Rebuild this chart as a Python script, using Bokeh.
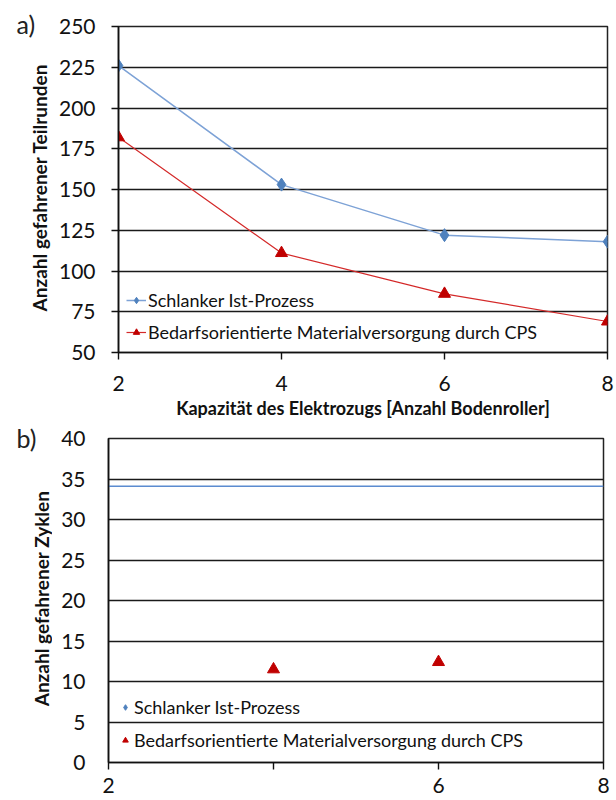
import math
from bokeh.plotting import figure
from bokeh.layouts import column, row
from bokeh.models import FixedTicker, Legend, LegendItem, Range1d
from bokeh.core.properties import value
from bokeh.embed import file_html
from bokeh.resources import INLINE

# ---- data ----
capacity = [2, 4, 6, 8]
ist_a = [226, 153, 122, 118]
cps_a = [182, 111, 86, 69]
ist_b = [34.1, 34.1, 34.1, 34.1]
cps_b_x = [4, 6]
cps_b = [11.5, 12.4]
y_ticks_a = [50, 75, 100, 125, 150, 175, 200, 225, 250]
y_ticks_b = [0, 5, 10, 15, 20, 25, 30, 35, 40]
x_labels_a = {2: "2", 4: "4", 6: "6", 8: "8"}
x_labels_b = {2: "2", 4: "", 6: "6", 8: "8"}
series_names = ["Schlanker Ist-Prozess", "Bedarfsorientierte Materialversorgung durch CPS"]
x_title = "Kapazität des Elektrozugs [Anzahl Bodenroller]"
y_title_a = "Anzahl gefahrener Teilrunden"
y_title_b = "Anzahl gefahrener Zyklen"
panel_tags = ["a)", "b)"]

FONT = "Lato"
BLUE_LINE = "#7da2d6"
BLUE_MARK = "#4f81bd"
RED_LINE = "#d42a2a"
RED_MARK = "#c00000"
TAG_W = 52
MAIN_W = 616 - TAG_W


def base_fig(height, top, bottom, left, right, yr, yticks, xlabels, tick_out_y, x_standoff):
    p = figure(width=MAIN_W, height=height, output_backend="svg", toolbar_location=None,
               x_range=Range1d(2, 8), y_range=Range1d(*yr),
               min_border_left=left, min_border_right=right,
               min_border_top=top, min_border_bottom=bottom, frame_align=False)
    p.background_fill_color = "white"
    p.border_fill_color = "white"
    p.outline_line_color = "#222222"
    p.outline_line_width = 1.5
    p.xgrid.visible = False
    p.ygrid.ticker = FixedTicker(ticks=yticks)
    p.ygrid.grid_line_color = "#1a1a1a"
    p.ygrid.grid_line_width = 1.4
    for ax in (p.xaxis[0], p.yaxis[0]):
        ax.axis_line_color = "#111111"
        ax.axis_line_width = 1.6
        ax.major_tick_line_color = "#111111"
        ax.major_tick_line_width = 1.4
        ax.minor_tick_line_color = None
        ax.major_tick_in = 0
        ax.major_label_text_font = FONT
        ax.major_label_text_font_size = "21px"
        ax.major_label_text_color = "#111111"
        ax.axis_label_text_font = FONT
        ax.axis_label_text_font_style = "bold"
        ax.axis_label_text_font_size = "18px"
        ax.axis_label_text_color = "#111111"
    p.xaxis.ticker = FixedTicker(ticks=capacity)
    p.xaxis.major_label_overrides = xlabels
    p.xaxis.major_tick_out = 7
    p.xaxis.major_label_standoff = x_standoff
    p.yaxis.ticker = FixedTicker(ticks=yticks)
    p.yaxis.major_tick_out = tick_out_y
    p.yaxis.major_label_standoff = 21 - tick_out_y + 2
    return p


def tag_fig(height, tag, tag_top, ytitle, title_x, title_cy):
    t = figure(width=TAG_W, height=height, output_backend="svg", toolbar_location=None,
               x_range=Range1d(0, TAG_W), y_range=Range1d(0, height),
               x_axis_type=None, y_axis_type=None, min_border=0, frame_align=False)
    t.outline_line_color = None
    t.grid.visible = False
    t.background_fill_color = "white"
    t.border_fill_color = "white"
    t.text(x=[16], y=[height - tag_top], text=[tag], text_font=value(FONT),
           text_font_size="25px", text_color="#222222",
           text_align="left", text_baseline="middle")
    t.text(x=[title_x], y=[height - title_cy], text=[ytitle], angle=math.pi / 2,
           text_font=value(FONT), text_font_style="bold", text_font_size="19px",
           text_color="#111111", text_align="center", text_baseline="middle")
    return t


def style_legend(leg, glyph_w, spacing):
    leg.label_text_font = FONT
    leg.label_text_font_size = "18px"
    leg.label_text_color = "#111111"
    leg.background_fill_alpha = 0
    leg.border_line_alpha = 0
    leg.glyph_width = glyph_w
    leg.glyph_height = 16
    leg.label_height = 16
    leg.label_standoff = 2
    leg.spacing = spacing
    leg.padding = 0
    leg.margin = 0


# ---------------- chart a ----------------
HA = 422
pa = base_fig(HA, 26, HA - 352, 118 - TAG_W, 9, (50, 250), y_ticks_a, x_labels_a, 7, 16)
pa.xaxis.axis_label = x_title
pa.xaxis.axis_label_standoff = 3

la1 = pa.line(capacity, ist_a, line_color=BLUE_LINE, line_width=1.5)
sa1 = pa.scatter(capacity, ist_a, marker="diamond", size=13, fill_color=BLUE_MARK, line_color=BLUE_MARK)
la2 = pa.line(capacity, cps_a, line_color=RED_LINE, line_width=1.2)
sa2 = pa.scatter(capacity, cps_a, marker="triangle", size=12, fill_color=RED_MARK, line_color=RED_MARK)

leg_a = Legend(items=[LegendItem(label=series_names[0], renderers=[la1, sa1]),
                      LegendItem(label=series_names[1], renderers=[la2, sa2])],
               location=(8, 9), orientation="vertical")
style_legend(leg_a, 20, 10)
pa.add_layout(leg_a, "center")

ta = tag_fig(HA, panel_tags[0], 23, y_title_a, 39, 187)

# ---------------- chart b ----------------
B_TOP = 438 - HA
HB = B_TOP + 324 + 42
pb = base_fig(HB, B_TOP, 42, 108 - TAG_W, 13, (0, 40), y_ticks_b, x_labels_b, 0, 8)

lb1 = pb.line(capacity, ist_b, line_color="#5b8bd0", line_width=1.5)
sb1 = pb.scatter(capacity, ist_b, marker="diamond", size=11, fill_color=BLUE_MARK, line_color=BLUE_MARK)
sb1.visible = False
sb2 = pb.scatter(cps_b_x, cps_b, marker="triangle", size=12, fill_color=RED_MARK, line_color=RED_MARK)

leg_b = Legend(items=[LegendItem(label=series_names[0], renderers=[sb1]),
                      LegendItem(label=series_names[1], renderers=[sb2])],
               location=(10, 11), orientation="vertical")
style_legend(leg_b, 14, 11)
pb.add_layout(leg_b, "center")

tb = tag_fig(HB, panel_tags[1], 437 - HA, y_title_b, 41, 598 - HA)

layout = column(row(ta, pa, spacing=0), row(tb, pb, spacing=0), spacing=0)
open("out.html", "w").write(file_html(layout, INLINE))
